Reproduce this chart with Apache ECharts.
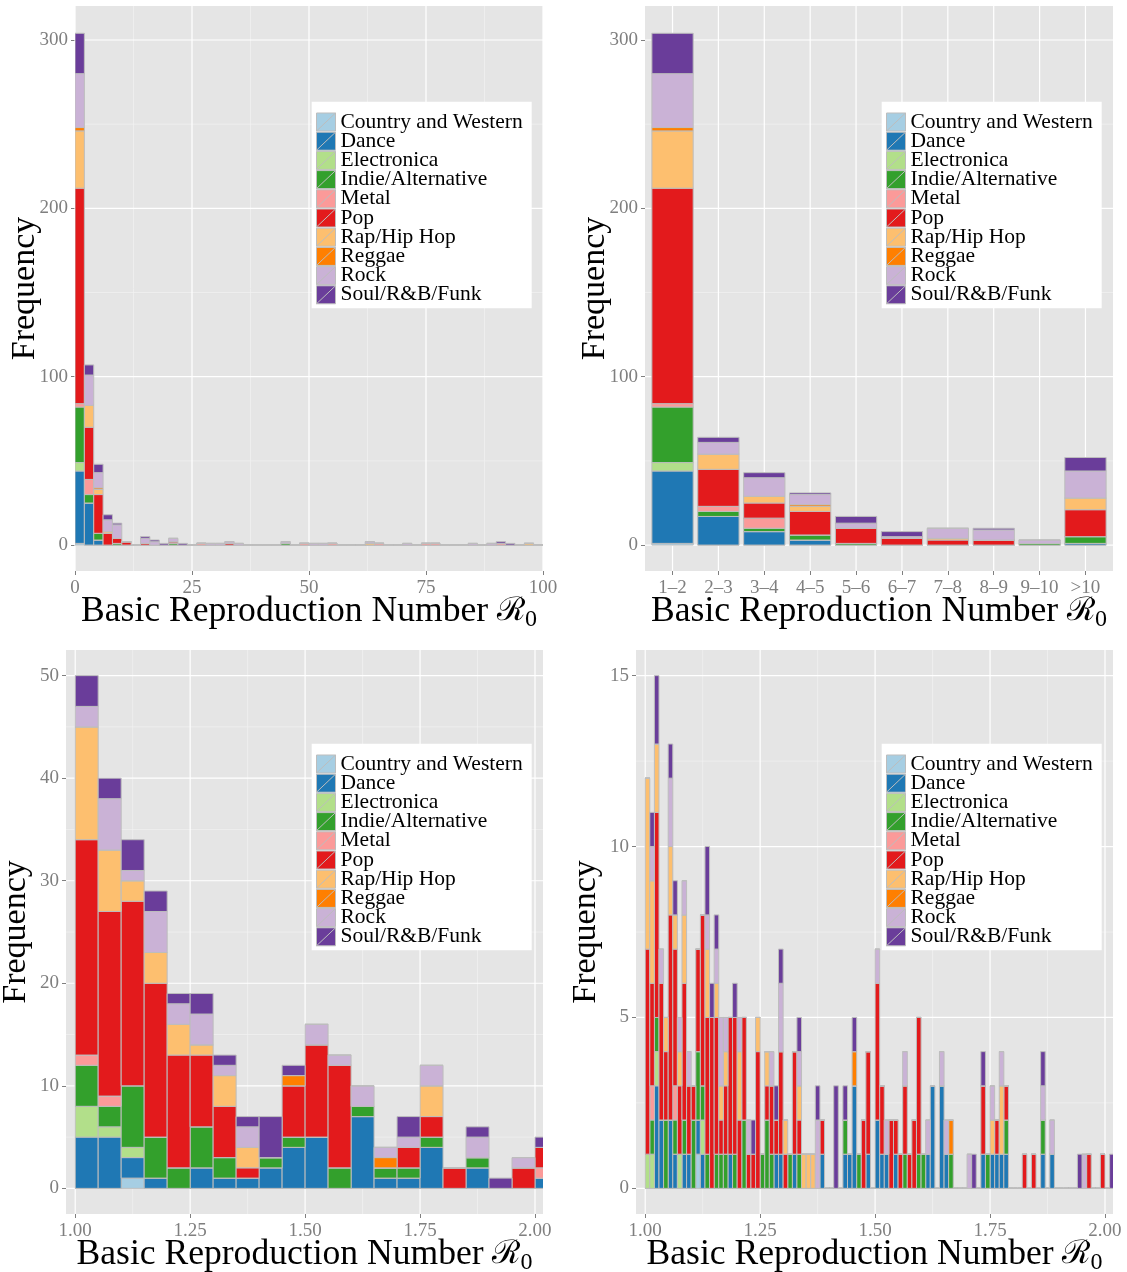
<!DOCTYPE html>
<html>
<head>
<meta charset="utf-8">
<script src="https://cdn.jsdelivr.net/npm/echarts@6/dist/echarts.min.js"></script>
<style>
  html, body { margin: 0; padding: 0; background: #ffffff; }
  #chart { width: 1127px; height: 1272px; }
</style>
</head>
<body>
<div id="chart"></div>
<script>
// ---------------------------------------------------------------------------
// Genres (stacking order, bottom to top) and their ColorBrewer "Paired" colours
// ---------------------------------------------------------------------------
const genres = ['Country and Western', 'Dance', 'Electronica', 'Indie/Alternative', 'Metal',
                'Pop', 'Rap/Hip Hop', 'Reggae', 'Rock', 'Soul/R&B/Funk'];
const genreColors = ['#A6CEE3', '#1F78B4', '#B2DF8A', '#33A02C', '#FB9A99',
                     '#E31A1C', '#FDBF6F', '#FF7F00', '#CAB2D6', '#6A3D9A'];

// ---------------------------------------------------------------------------
// Panel A: R0 histogram, bins of width 2 on [0, 100] (50 bins)
// ---------------------------------------------------------------------------
const wideBinStart = 0, wideBinWidth = 2;
const wideCountry = [1,0,0,0,0,0,0,0,0,0, 0,0,0,0,0,0,0,0,0,0, 0,0,0,0,0,0,0,0,0,0, 0,0,0,0,0,0,0,0,0,0, 0,0,0,0,0,0,0,0,0,0];
const wideDance   = [43,25,3,0,0,0,0,0,0,0, 0,0,0,0,0,0,0,0,0,0, 0,0,0,0,0,0,0,0,0,0, 0,0,0,0,0,0,0,0,0,0, 0,0,0,0,0,0,0,0,0,0];
const wideElectro = [5,0,0,0,0,0,0,0,0,0, 0,0,0,0,0,0,0,0,0,0, 0,0,0,0,0,0,0,0,0,0, 0,0,0,0,0,0,0,0,0,0, 0,0,0,0,0,0,0,0,0,0];
const wideIndie   = [33,5,4,0,1,0,0,0,0,0, 1,0,0,0,0,0,0,0,0,0, 0,0,1,0,0,0,0,0,0,0, 0,0,0,0,0,0,0,0,0,0, 0,0,0,0,0,0,0,0,0,0];
const wideMetal   = [2,9,0,0,0,0,0,0,0,0, 0,0,0,1,0,0,0,0,0,0, 0,0,0,0,1,0,0,1,0,0, 0,0,1,0,0,0,0,1,1,0, 0,0,0,0,0,1,0,0,0,0];
const widePop     = [128,31,23,7,3,2,0,1,0,0, 1,0,0,0,0,0,1,0,0,0, 0,0,0,0,0,0,0,0,0,0, 0,0,0,0,0,0,0,0,0,0, 0,0,0,0,0,0,0,0,0,0];
const wideRap     = [34,13,3,1,0,0,0,0,0,0, 0,0,0,0,0,0,0,0,0,0, 0,0,0,0,0,0,0,0,0,0, 0,1,0,0,0,0,0,0,0,0, 0,0,0,0,0,0,0,0,1,0];
const wideReggae  = [2,0,1,0,0,0,0,0,0,0, 0,0,0,0,0,0,0,0,0,0, 0,0,0,0,0,0,0,0,0,0, 0,0,0,0,0,0,0,0,0,0, 0,0,0,0,0,0,0,0,0,0];
const wideRock    = [32,18,9,7,8,0,0,3,2,0, 2,0,0,0,1,1,1,1,0,0, 0,0,1,0,0,1,1,0,0,0, 0,1,0,0,0,1,0,0,0,0, 0,0,1,0,1,0,0,0,0,0];
const wideSoul    = [24,6,5,3,1,0,0,1,1,1, 0,1,0,0,0,0,0,0,0,0, 0,0,0,0,0,0,0,0,0,0, 0,0,0,0,0,0,0,0,0,0, 0,0,0,0,0,1,1,0,0,0];

// ---------------------------------------------------------------------------
// Panel B: R0 grouped into unit ranges
// ---------------------------------------------------------------------------
const rangeLabels  = ['1\u20132', '2\u20133', '3\u20134', '4\u20135', '5\u20136', '6\u20137', '7\u20138', '8\u20139', '9\u201310', '>10'];
const rangeCountry = [1,0,0,0,0,0,0,0,0,0];
const rangeDance   = [43,17,8,3,0,0,0,0,0,1];
const rangeElectro = [5,0,0,0,0,0,0,0,0,0];
const rangeIndie   = [33,3,2,3,1,0,0,0,1,4];
const rangeMetal   = [2,3,6,0,0,0,0,0,0,0];
const rangePop     = [128,22,9,14,9,4,3,3,0,16];
const rangeRap     = [34,9,4,3,0,0,1,0,0,7];
const rangeReggae  = [2,0,0,1,0,0,0,0,0,0];
const rangeRock    = [32,7,11,6,3,1,6,6,2,16];
const rangeSoul    = [24,3,3,1,4,3,0,1,0,8];

// ---------------------------------------------------------------------------
// Panel C: R0 between 1 and 2, bins of width 0.05 (21 bins from 1.00)
// ---------------------------------------------------------------------------
const mediumBinStart = 1.0, mediumBinWidth = 0.05;
const mediumCountry = [0,0,1,0,0,0,0,0,0,0, 0,0,0,0,0,0,0,0,0,0, 0];
const mediumDance   = [5,5,2,1,0,2,1,1,2,4, 5,0,7,1,1,4,0,2,0,0, 1];
const mediumElectro = [3,1,1,0,0,0,0,0,0,0, 0,0,0,0,0,0,0,0,0,0, 0];
const mediumIndie   = [4,2,6,4,2,4,2,0,1,1, 0,2,1,1,1,1,0,1,0,0, 0];
const mediumMetal   = [1,1,0,0,0,0,0,0,0,0, 0,0,0,0,0,0,0,0,0,0, 1];
const mediumPop     = [21,18,18,15,11,7,5,1,0,5, 9,10,0,0,2,2,2,0,0,2, 2];
const mediumRap     = [11,6,2,3,3,1,3,2,0,0, 0,0,0,0,0,3,0,0,0,0, 0];
const mediumReggae  = [0,0,0,0,0,0,0,0,0,1, 0,0,0,1,0,0,0,0,0,0, 0];
const mediumRock    = [2,5,1,4,2,3,1,2,0,0, 2,1,2,1,1,2,0,2,0,1, 0];
const mediumSoul    = [3,2,3,2,1,2,1,1,4,1, 0,0,0,0,2,0,0,1,1,0, 1];

// ---------------------------------------------------------------------------
// Panel D: R0 between 1 and 2, bins of width 0.01 (102 bins from 1.00)
// ---------------------------------------------------------------------------
const fineBinStart = 1.0, fineBinWidth = 0.01;
const fineCountry = [0,0,0,0,0,0,0,0,0,0, 0,1,0,0,0,0,0,0,0,0, 0,0,0,0,0,0,0,0,0,0, 0,0,0,0,0,0,0,0,0,0, 0,0,0,0,0,0,0,0,0,0,
                     0,0,0,0,0,0,0,0,0,0, 0,0,0,0,0,0,0,0,0,0, 0,0,0,0,0,0,0,0,0,0, 0,0,0,0,0,0,0,0,0,0, 0,0,0,0,0,0,0,0,0,0, 0,0];
const fineDance   = [0,0,3,2,0,2,1,0,1,1, 0,1,1,0,0,0,0,0,1,0, 0,0,0,0,0,0,0,0,1,1, 0,0,1,0,0,0,0,0,1,0, 0,0,0,1,1,3,0,0,1,0,
                     2,1,1,0,1,0,0,0,0,0, 0,1,3,0,3,1,0,0,0,0, 0,0,0,1,0,1,1,1,1,0, 0,0,0,0,0,0,1,0,1,0, 0,0,0,0,0,0,0,0,0,0, 0,0];
const fineElectro = [1,1,1,0,0,0,0,1,0,0, 0,0,1,0,0,0,0,0,0,0, 0,0,0,0,0,0,0,0,0,0, 0,0,0,0,0,0,0,0,0,0, 0,0,0,0,0,0,0,0,0,0,
                     0,0,0,0,0,0,0,0,0,0, 0,0,0,0,0,0,0,0,0,0, 0,0,0,0,0,0,0,0,0,0, 0,0,0,0,0,0,0,0,0,0, 0,0,0,0,0,0,0,0,0,0, 0,0];
const fineIndie   = [0,1,1,0,2,0,1,0,1,0, 2,2,1,1,0,1,1,1,0,1, 0,2,0,0,0,1,2,1,0,0, 0,1,0,1,0,0,0,0,0,0, 0,0,0,1,0,0,1,0,0,0,
                     0,0,0,0,0,0,1,0,0,1, 1,0,0,0,0,0,1,0,0,0, 0,0,0,0,1,0,0,0,1,0, 0,0,0,0,0,0,1,0,0,0, 0,0,0,0,0,0,0,0,0,0, 0,0];
const fineMetal   = [0,1,0,0,0,0,1,0,0,0, 0,0,0,0,0,0,0,0,0,0, 0,0,0,0,0,0,0,0,0,0, 0,0,0,0,0,0,0,0,0,0, 0,0,0,0,0,0,0,0,0,0,
                     0,0,0,0,0,0,0,0,0,0, 0,0,0,0,0,0,0,0,0,0, 0,0,0,0,0,0,0,0,0,0, 0,0,0,0,0,0,0,0,0,0, 0,0,0,0,0,0,0,0,0,0, 0,0];
const finePop     = [6,3,6,4,2,6,4,2,4,2, 1,3,5,4,5,4,1,2,4,4, 2,3,1,1,4,0,1,2,1,3, 1,0,3,1,0,0,0,0,1,0, 0,0,0,0,0,0,0,2,3,0,
                     4,2,0,2,1,1,2,1,2,4, 0,0,0,0,0,0,0,0,0,0, 0,0,0,2,0,0,1,0,1,0, 0,0,1,0,1,0,0,0,0,0, 0,0,0,0,0,0,1,0,0,1, 0,0];
const fineRap     = [5,3,2,0,1,2,1,1,2,0, 0,0,0,2,0,1,1,1,0,0, 2,0,0,0,1,0,1,0,0,0, 1,0,0,1,1,1,1,0,0,0, 0,0,0,0,0,0,0,0,0,0,
                     0,0,0,0,0,0,0,0,0,0, 0,0,0,0,0,0,0,0,0,0, 0,0,0,0,0,1,0,2,0,0, 0,0,0,0,0,0,0,0,0,0, 0,0,0,0,0,0,0,0,0,0, 0,0];
const fineReggae  = [0,0,0,0,0,0,0,0,0,0, 0,0,0,0,0,0,0,0,0,0, 0,0,0,0,0,0,0,0,0,0, 0,0,0,0,0,0,0,0,0,0, 0,0,0,0,0,1,0,0,0,0,
                     0,0,0,0,0,0,0,0,0,0, 0,0,0,0,0,0,1,0,0,0, 0,0,0,0,0,0,0,0,0,0, 0,0,0,0,0,0,0,0,0,0, 0,0,0,0,0,0,0,0,0,0, 0,0];
const fineRock    = [0,1,0,1,0,2,0,1,1,1, 0,0,0,1,0,1,2,1,0,0, 1,0,1,0,0,0,0,1,0,2, 0,0,0,1,0,0,0,2,0,0, 0,0,0,0,0,0,0,0,0,0,
                     1,0,1,0,0,0,1,0,0,0, 0,1,0,0,1,1,0,0,0,0, 1,0,0,0,0,1,0,1,0,0, 0,0,0,0,0,0,1,0,1,0, 0,0,0,0,0,1,0,0,0,0, 0,0];
const fineSoul    = [0,1,2,0,0,1,1,0,0,0, 0,0,0,2,1,1,0,0,0,1, 0,0,0,1,0,0,0,0,1,1, 0,0,0,1,0,0,0,1,0,0, 0,3,0,1,0,1,0,0,0,0,
                     0,0,0,0,0,0,0,0,0,0, 0,0,0,0,0,0,0,0,0,0, 0,1,0,1,0,0,0,0,0,0, 0,0,0,0,0,0,1,0,0,0, 0,0,0,0,1,0,0,0,0,0, 0,1];

// ---------------------------------------------------------------------------
// Axis breaks (major ticks / gridlines and minor gridlines)
// ---------------------------------------------------------------------------
const wideXTicks   = [0, 25, 50, 75, 100];
const wideXMinor   = [12.5, 37.5, 62.5, 87.5];
const bigYTicks    = [0, 100, 200, 300];
const bigYMinor    = [50, 150, 250];
const rangeXTicks  = [0, 1, 2, 3, 4, 5, 6, 7, 8, 9];
const unitXTicks   = [1.00, 1.25, 1.50, 1.75, 2.00];
const unitXMinor   = [1.125, 1.375, 1.625, 1.875];
const mediumYTicks = [0, 10, 20, 30, 40, 50];
const mediumYMinor = [5, 15, 25, 35, 45];
const fineYTicks   = [0, 5, 10, 15];
const fineYMinor   = [2.5, 7.5, 12.5];

// ---------------------------------------------------------------------------
// Look and feel
// ---------------------------------------------------------------------------
const SERIF = '"Liberation Serif", "Times New Roman", serif';
const PANEL_BG = '#E5E5E5';
const OUTLINE = '#BDBDBD';
const AXIS_GREY = '#7F7F7F';
const RANGE_BAR_HALF = 0.45;   // bars take 90% of each range slot

const panelBoxes = [
  { left: 75,  top: 6,   width: 468, height: 565 },
  { left: 645, top: 6,   width: 468, height: 565 },
  { left: 66,  top: 650, width: 477, height: 564 },
  { left: 636, top: 650, width: 477, height: 564 }
];

// stack each genre on top of the previous ones, bin by bin
function stackSegments(rows, edges) {
  const base = new Array(rows[0].length).fill(0);
  return rows.map(row => row.map((count, i) => {
    const [x0, x1] = edges(i);
    const seg = [x0, x1, base[i], base[i] + count];
    base[i] += count;
    return seg;
  }));
}

const wideRows   = [wideCountry, wideDance, wideElectro, wideIndie, wideMetal, widePop, wideRap, wideReggae, wideRock, wideSoul];
const rangeRows  = [rangeCountry, rangeDance, rangeElectro, rangeIndie, rangeMetal, rangePop, rangeRap, rangeReggae, rangeRock, rangeSoul];
const mediumRows = [mediumCountry, mediumDance, mediumElectro, mediumIndie, mediumMetal, mediumPop, mediumRap, mediumReggae, mediumRock, mediumSoul];
const fineRows   = [fineCountry, fineDance, fineElectro, fineIndie, fineMetal, finePop, fineRap, fineReggae, fineRock, fineSoul];

const panelSegments = [
  stackSegments(wideRows,   i => [wideBinStart + i * wideBinWidth, wideBinStart + (i + 1) * wideBinWidth]),
  stackSegments(rangeRows,  i => [i - RANGE_BAR_HALF, i + RANGE_BAR_HALF]),
  stackSegments(mediumRows, i => [mediumBinStart + i * mediumBinWidth, mediumBinStart + (i + 1) * mediumBinWidth]),
  stackSegments(fineRows,   i => [fineBinStart + i * fineBinWidth, fineBinStart + (i + 1) * fineBinWidth])
];

function renderSegment(params, api) {
  const lo = api.coord([api.value(0), api.value(2)]);
  const hi = api.coord([api.value(1), api.value(3)]);
  return {
    type: 'rect',
    shape: { x: lo[0], y: hi[1], width: hi[0] - lo[0], height: lo[1] - hi[1] },
    style: { fill: api.visual('color'), stroke: OUTLINE, lineWidth: 1 }
  };
}

// gridline items: [vertical?1:0, value, major?1:0]
function gridItems(xMajor, xMinor, yMajor, yMinor) {
  return [].concat(
    xMinor.map(v => [1, v, 0]), yMinor.map(v => [0, v, 0]),
    xMajor.map(v => [1, v, 1]), yMajor.map(v => [0, v, 1]));
}

function renderGridLine(params, api) {
  const cs = params.coordSys;
  const major = api.value(2) === 1;
  const style = { stroke: major ? '#FFFFFF' : '#F2F2F2', lineWidth: major ? 1.2 : 0.7 };
  if (api.value(0) === 1) {
    const x = api.coord([api.value(1), 0])[0];
    return { type: 'line', shape: { x1: x, y1: cs.y, x2: x, y2: cs.y + cs.height }, style };
  }
  const y = api.coord([0, api.value(1)])[1];
  return { type: 'line', shape: { x1: cs.x, y1: y, x2: cs.x + cs.width, y2: y }, style };
}

const panelGrids = [
  gridItems(wideXTicks, wideXMinor, bigYTicks, bigYMinor),
  gridItems(rangeXTicks, [], bigYTicks, bigYMinor),
  gridItems(unitXTicks, unitXMinor, mediumYTicks, mediumYMinor),
  gridItems(unitXTicks, unitXMinor, fineYTicks, fineYMinor)
];

const xRanges = [[0, 100], [-0.6, 9.6], [0.98, 2.0174], [0.98, 2.0174]];
const yRanges = [[-15.4, 320.2], [-15.4, 320.2], [-2.5, 52.5], [-0.75, 15.75]];
const xTicks = [wideXTicks, rangeXTicks, unitXTicks, unitXTicks];
const yTicks = [bigYTicks, bigYTicks, mediumYTicks, fineYTicks];
const xFormat = [
  v => String(v),
  v => rangeLabels[Math.round(v)],
  v => Number(v).toFixed(2),
  v => Number(v).toFixed(2)
];

const tickLabelStyle = { fontFamily: SERIF, fontSize: 19, color: AXIS_GREY };

const xAxes = panelBoxes.map((b, p) => ({
  type: 'value', gridIndex: p, min: xRanges[p][0], max: xRanges[p][1],
  axisLine: { show: false, onZero: false },
  axisTick: { show: true, customValues: xTicks[p], length: 4, lineStyle: { color: AXIS_GREY, width: 1 } },
  axisLabel: Object.assign({ customValues: xTicks[p], formatter: xFormat[p], margin: 8 }, tickLabelStyle),
  splitLine: { show: false },
  name: 'Basic Reproduction Number {r|\u211B}{s|0}',
  nameLocation: 'middle', nameGap: 21, nameMoveOverlap: false,
  nameTextStyle: {
    fontFamily: SERIF, fontSize: 35.6, color: '#000000', lineHeight: 40,
    rich: {
      r: { fontFamily: '"DejaVu Serif", serif', fontSize: 32.6, lineHeight: 40, color: '#000000' },
      s: { fontFamily: SERIF, fontSize: 24, lineHeight: 24, verticalAlign: 'bottom', color: '#000000' }
    }
  }
}));

const yAxes = panelBoxes.map((b, p) => ({
  type: 'value', gridIndex: p, min: yRanges[p][0], max: yRanges[p][1],
  axisLine: { show: false, onZero: false },
  axisTick: { show: true, customValues: yTicks[p], length: 4, lineStyle: { color: AXIS_GREY, width: 1 } },
  axisLabel: Object.assign({ customValues: yTicks[p], margin: 7 }, tickLabelStyle),
  splitLine: { show: false },
  name: 'Frequency', nameLocation: 'middle', nameRotate: 90, nameGap: 32, nameMoveOverlap: false,
  nameTextStyle: { fontFamily: SERIF, fontSize: 34, color: '#000000', lineHeight: 36 }
}));

const series = [];
panelBoxes.forEach((b, p) => {
  series.push({
    type: 'custom', xAxisIndex: p, yAxisIndex: p, silent: true, z: 1,
    renderItem: renderGridLine, data: panelGrids[p], encode: { x: 0, y: 1 }
  });
  genres.forEach((g, gi) => {
    series.push({
      type: 'custom', name: g, xAxisIndex: p, yAxisIndex: p, z: 2, clip: true,
      itemStyle: { color: genreColors[gi] },
      renderItem: renderSegment, data: panelSegments[p][gi], encode: { x: [0, 1], y: [2, 3] }
    });
  });
});

const KEY_ICON = 'path://M0,0L19,0L19,18L0,18Z M0,18L19,0';
const legendAt = (left, top) => ({
  orient: 'vertical', left, top, data: genres, icon: KEY_ICON,
  itemWidth: 19, itemHeight: 18, itemGap: -2.8,
  padding: [9.3, 9, 2.5, 4.3], backgroundColor: '#FFFFFF', borderWidth: 0,
  itemStyle: { borderColor: OUTLINE, borderWidth: 1 },
  textStyle: { fontFamily: SERIF, fontSize: 21.5, color: '#000000' },
  selectedMode: false
});

const chart = echarts.init(document.getElementById('chart'), null, { renderer: 'canvas', width: 1127, height: 1272 });
chart.setOption({
  animation: false,
  backgroundColor: '#FFFFFF',
  grid: panelBoxes.map(b => Object.assign({
    show: true, backgroundColor: PANEL_BG, borderWidth: 0, containLabel: false, outerBoundsMode: 'none'
  }, b)),
  xAxis: xAxes,
  yAxis: yAxes,
  legend: [legendAt(311.7, 101.7), legendAt(881.7, 101.7), legendAt(311.7, 743.7), legendAt(881.7, 743.7)],
  series
});
</script>
</body>
</html>
